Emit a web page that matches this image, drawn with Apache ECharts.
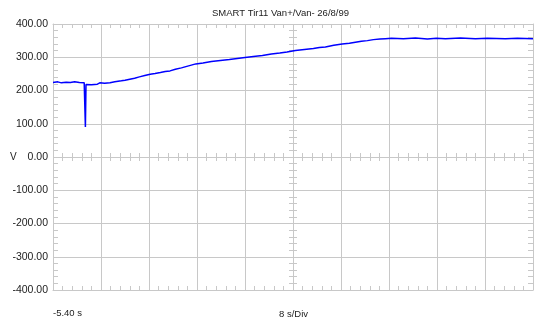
<!DOCTYPE html>
<html>
<head>
<meta charset="utf-8">
<script src="https://cdn.jsdelivr.net/npm/echarts@6/dist/echarts.min.js"></script>
<style>html,body{margin:0;padding:0;background:#fff;}#c{width:542px;height:322px;}</style>
</head>
<body>
<div id="c"></div>
<script>
// time in seconds
var timeS = [-5.4, -4.6, -4.0, -3.2, -2.5, -1.8, -1.0, -0.2, 0.0, 0.0, 0.1, 1.0, 2.0, 2.4, 3.2, 4.1, 4.9, 6.0, 6.6, 7.4, 8.2, 9.0, 9.9, 10.8, 11.6, 12.5, 13.3, 14.1, 15.0, 16.0, 17.2, 18.4, 19.6, 21.0, 22.5, 24.0, 25.3, 26.6, 28.0, 29.5, 31.0, 32.4, 33.6, 35.0, 36.5, 38.0, 39.0, 40.0, 41.4, 42.8, 44.0, 45.0, 46.0, 47.0, 48.0, 49.1, 50.0, 51.0, 53.0, 55.0, 57.0, 58.5, 60.0, 62.5, 65.0, 67.0, 70.0, 72.0, 74.6];
// voltage V
var voltV = [224, 226, 223, 225, 224, 226, 224, 223, 223, 90, 218, 217, 219, 223, 222, 223, 226, 229, 231, 234, 237, 241, 245, 249, 251, 254, 257, 259, 264, 268, 274, 280, 283, 287, 290, 293, 296, 299, 302, 305, 310, 313, 316, 320, 323, 326, 329, 331, 336, 340, 342, 345, 348, 350, 353, 355, 356, 357, 356, 358, 355, 357, 356, 358, 356, 357, 356, 357, 356];
var yTickValues = [-400, -300, -200, -100, 0, 100, 200, 300, 400];
var startTimeLabel = '-5.40 s';
var divLabel = '8 s/Div';
var titleText = 'SMART Tir11 Van+/Van- 26/8/99';
var secPerDiv = 8;
var divisions = 10;

var t0 = timeS[0];
var half = secPerDiv * divisions / 2;
var data = timeS.map(function (t, i) { return [t - t0 - half, voltV[i]]; });

var gridCol = '#c8c8c8';
var font = "'Liberation Sans', Arial, sans-serif";
function xAx(extra) {
  var base = {
    type: 'value', min: -half, max: half, interval: secPerDiv,
    axisLine: { show: true, onZero: false, lineStyle: { color: gridCol, width: 1 } },
    axisTick: { show: true, inside: true, length: 4, lineStyle: { color: gridCol } },
    minorTick: { show: true, splitNumber: 5, length: 4, lineStyle: { color: gridCol } },
    axisLabel: { show: false },
    splitLine: { show: false }
  };
  return Object.assign(base, extra);
}
function yAx(extra) {
  var base = {
    type: 'value', min: yTickValues[0], max: yTickValues[yTickValues.length - 1], interval: 100,
    axisLine: { show: true, onZero: false, lineStyle: { color: gridCol, width: 1 } },
    axisTick: { show: true, inside: true, length: 5, lineStyle: { color: gridCol } },
    minorTick: { show: true, splitNumber: 5, length: 5, lineStyle: { color: gridCol } },
    axisLabel: { show: false },
    splitLine: { show: false }
  };
  return Object.assign(base, extra);
}
var ts = function (size) { return { fontSize: size, fontWeight: 'normal', color: '#222', fontFamily: font }; };

var chart = echarts.init(document.getElementById('c'), null, { renderer: 'canvas' });
chart.setOption({
  animation: false,
  backgroundColor: '#ffffff',
  textStyle: { fontFamily: font },
  title: [
    { text: titleText, left: 212, top: 8, padding: 0, textStyle: ts(9.5) },
    { text: 'V', left: 10, top: 152, padding: 0, textStyle: ts(10) },
    { text: startTimeLabel, left: 53, top: 308, padding: 0, textStyle: ts(9.5) },
    { text: divLabel, left: 279, top: 309, padding: 0, textStyle: ts(9.5) }
  ],
  grid: { left: 53, top: 24, width: 480, height: 266, containLabel: false },
  xAxis: [
    xAx({ position: 'bottom', splitLine: { show: true, lineStyle: { color: gridCol, width: 1 } } }),
    xAx({ position: 'top' }),
    xAx({ position: 'bottom', axisLine: { show: false, onZero: true, onZeroAxisIndex: 0 }, axisTick: { show: true, inside: true, length: 4, lineStyle: { color: gridCol } } }),
    xAx({ position: 'bottom', axisLine: { show: false, onZero: true, onZeroAxisIndex: 0 }, axisTick: { show: true, inside: false, length: 4, lineStyle: { color: gridCol } } })
  ],
  yAxis: [
    yAx({ position: 'left', splitLine: { show: true, lineStyle: { color: gridCol, width: 1 } },
      axisLabel: { show: true, margin: 5, fontSize: 10.5, color: '#222', fontFamily: font,
        formatter: function (v) { return v.toFixed(2); } } }),
    yAx({ position: 'right' }),
    yAx({ position: 'left', axisLine: { show: false, onZero: true, onZeroAxisIndex: 0 }, axisTick: { show: true, inside: true, length: 4, lineStyle: { color: gridCol } }, minorTick: { show: true, splitNumber: 5, length: 4, lineStyle: { color: gridCol } } }),
    yAx({ position: 'left', axisLine: { show: false, onZero: true, onZeroAxisIndex: 0 }, axisTick: { show: true, inside: false, length: 4, lineStyle: { color: gridCol } }, minorTick: { show: true, splitNumber: 5, length: 4, lineStyle: { color: gridCol } } })
  ],
  series: [{
    type: 'line',
    xAxisIndex: 0, yAxisIndex: 0,
    data: data,
    showSymbol: false,
    symbol: 'none',
    lineStyle: { color: '#0000ff', width: 1.5 },
    silent: true
  }]
});
</script>
</body>
</html>
